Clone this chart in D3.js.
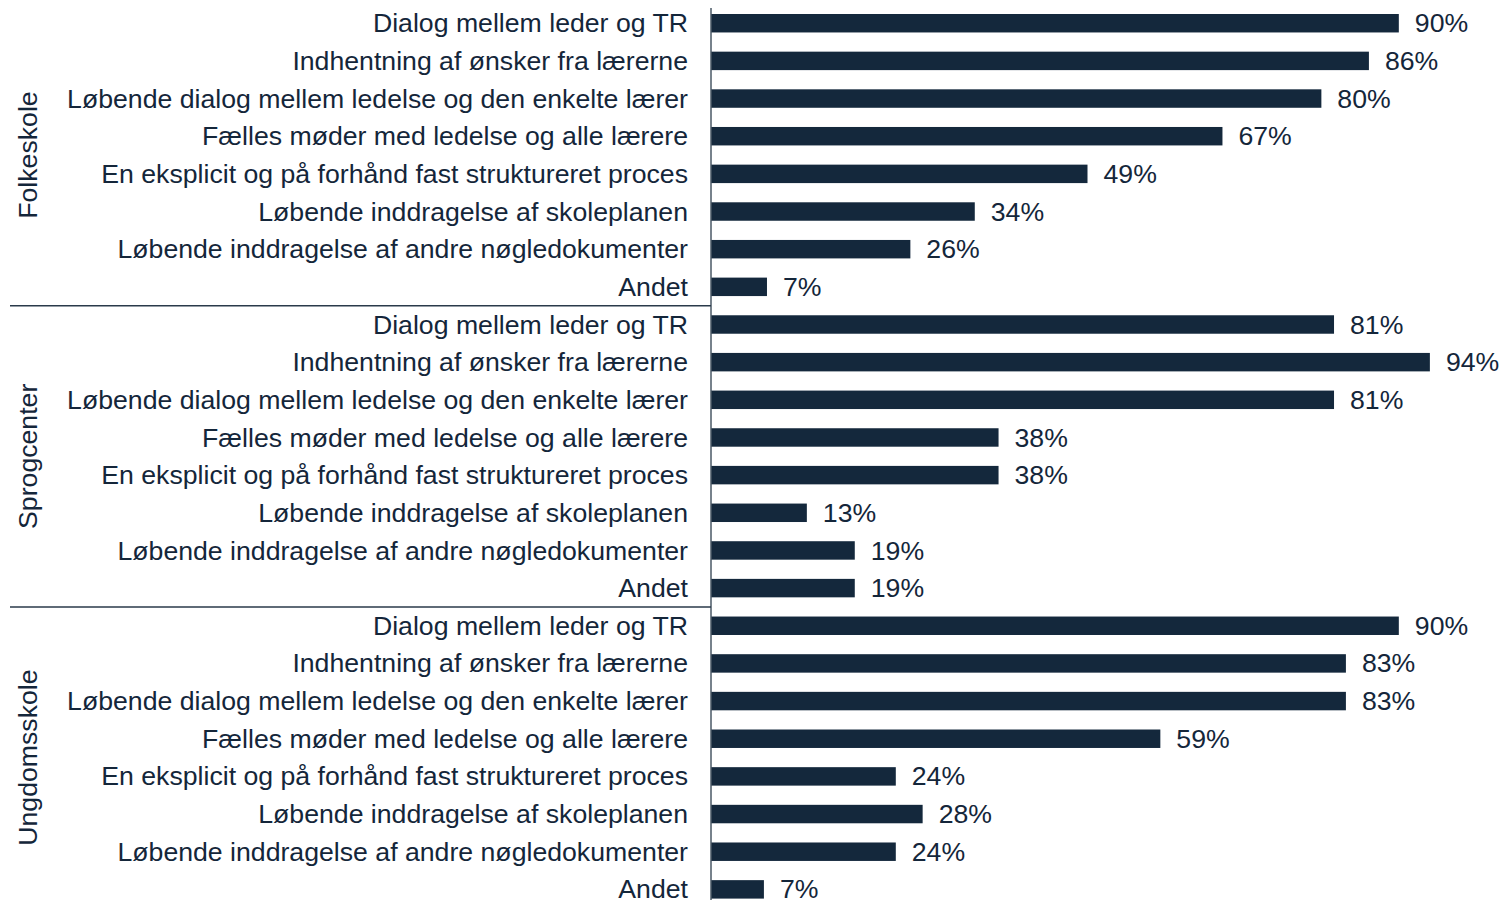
<!DOCTYPE html>
<html>
<head>
<meta charset="utf-8">
<script src="https://cdn.jsdelivr.net/npm/d3@7"></script>
<style>
html,body{margin:0;padding:0;background:#fff;}
svg{display:block;font-family:"Liberation Sans",Arial,sans-serif;}
</style>
</head>
<body>
<svg id="chart" width="1501" height="900"></svg>
<script>
const groups = ["Folkeskole", "Sprogcenter", "Ungdomsskole"];
const items = [
  "Dialog mellem leder og TR",
  "Indhentning af ønsker fra lærerne",
  "Løbende dialog mellem ledelse og den enkelte lærer",
  "Fælles møder med ledelse og alle lærere",
  "En eksplicit og på forhånd fast struktureret proces",
  "Løbende inddragelse af skoleplanen",
  "Løbende inddragelse af andre nøgledokumenter",
  "Andet"
];
const folkeskole = [89.7, 85.8, 79.6, 66.7, 49.1, 34.4, 26.0, 7.3];
const sprogcenter = [81.25, 93.75, 81.25, 37.5, 37.5, 12.5, 18.75, 18.75];
const ungdomsskole = [89.7, 82.8, 82.8, 58.6, 24.1, 27.6, 24.1, 6.9];
const seriesValues = [folkeskole, sprogcenter, ungdomsskole];

const rows = [];
groups.forEach((g, gi) => items.forEach((it, ii) => rows.push({group: g, item: it, value: seriesValues[gi][ii], key: g + "|" + ii})));

const svg = d3.select("#chart");
const textColor = "#14263a";
const barColor = "#14283c";
const fs = 26.67;

const x = d3.scaleLinear().domain([0, 100]).range([711, 1477.8]);
const y = d3.scaleBand().domain(rows.map(r => r.key)).range([4.4, 908.2]).paddingInner(0.51).paddingOuter(0.255);

// bars
svg.append("g").selectAll("rect").data(rows).join("rect")
  .attr("x", x(0))
  .attr("y", d => y(d.key))
  .attr("width", d => x(d.value) - x(0))
  .attr("height", y.bandwidth())
  .attr("fill", barColor);

// value labels
svg.append("g").selectAll("text").data(rows).join("text")
  .attr("x", d => x(d.value) + 16)
  .attr("y", d => y(d.key) + y.bandwidth() / 2)
  .attr("dy", "0.34em")
  .attr("font-size", fs)
  .attr("fill", textColor)
  .text(d => Math.round(d.value) + "%");

// category labels
svg.append("g").selectAll("text").data(rows).join("text")
  .attr("x", 688)
  .attr("y", d => y(d.key) + y.bandwidth() / 2)
  .attr("dy", "0.34em")
  .attr("text-anchor", "end")
  .attr("font-size", fs)
  .attr("fill", textColor)
  .text(d => d.item);

// axis line
const step = y.step();
svg.append("line")
  .attr("x1", x(0)).attr("x2", x(0))
  .attr("y1", 8).attr("y2", 900)
  .attr("stroke", "#4a5866").attr("stroke-width", 1.5);

// group separators and labels
groups.forEach((g, gi) => {
  const firstKey = g + "|0";
  const lastKey = g + "|" + (items.length - 1);
  const top = y(firstKey) + y.bandwidth() / 2 - step / 2;
  if (gi > 0) {
    svg.append("line")
      .attr("x1", 10).attr("x2", x(0))
      .attr("y1", top).attr("y2", top)
      .attr("stroke", "#2a3a4a").attr("stroke-width", 1.5);
  }
  const cy = (y(firstKey) + y(lastKey) + y.bandwidth()) / 2;
  svg.append("text")
    .attr("transform", `translate(28,${cy}) rotate(-90)`)
    .attr("text-anchor", "middle")
    .attr("dy", "0.34em")
    .attr("font-size", fs)
    .attr("fill", textColor)
    .text(g);
});
</script>
</body>
</html>
